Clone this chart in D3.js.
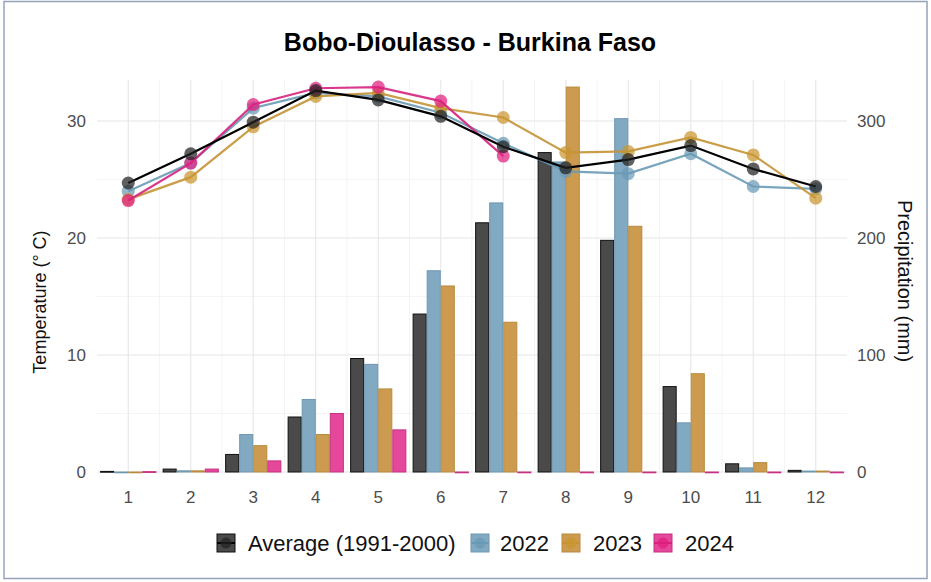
<!DOCTYPE html>
<html>
<head>
<meta charset="utf-8">
<script src="https://cdn.jsdelivr.net/npm/d3@7"></script>
<style>
  html, body { margin: 0; padding: 0; background: #fff; }
  svg { display: block; font-family: "Liberation Sans", Arial, sans-serif; }
</style>
</head>
<body>
<svg id="chart" width="931" height="582"></svg>
<script>
// ---------- data ----------
const months = [1, 2, 3, 4, 5, 6, 7, 8, 9, 10, 11, 12];
const seriesNames = ["Average (1991-2000)", "2022", "2023", "2024"];

const precipAvg  = [0.5, 2.5, 15, 47, 97, 135, 213, 273, 198, 73, 7, 1.4];
const precip2022 = [0, 1, 32, 62, 92, 172, 230, 265, 302, 42, 3.5, 0.8];
const precip2023 = [0, 1, 22.5, 32, 71, 159, 128, 329, 210, 84, 8, 0.8];
const precip2024 = [0.3, 2.5, 9.5, 50, 36, 0, 0, 0, 0, 0, 0, 0];

const tempAvg  = [24.7, 27.2, 29.9, 32.6, 31.8, 30.4, 27.8, 26.0, 26.7, 27.9, 25.9, 24.4];
const temp2022 = [24.0, 26.4, 31.1, 32.4, 32.1, 30.7, 28.1, 25.7, 25.5, 27.2, 24.4, 24.2];
const temp2023 = [23.3, 25.2, 29.5, 32.1, 32.4, 31.1, 30.3, 27.3, 27.4, 28.6, 27.1, 23.4];
const temp2024 = [23.2, 26.4, 31.4, 32.8, 32.9, 31.7, 27.0];

const tempTicks = [0, 10, 20, 30];
const precipTicks = [0, 100, 200, 300];

const precipSeries = [precipAvg, precip2022, precip2023, precip2024];
const tempSeries = [tempAvg, temp2022, temp2023, temp2024];

// ---------- styles ----------
const barFill   = ["#4a4a4a", "#82a9c2", "#cc9b4f", "#e5479a"];
const barStroke = ["#111111", "#6e97b0", "#b88a3e", "#c63282"];
const lineCol   = ["#000000", "#6a9ab6", "#c49235", "#d6227d"];
const ptCol     = ["#222222", "#6a9ab6", "#c9952f", "#e01f80"];

// ---------- layout ----------
const svg = d3.select("#chart");
const panel = { left: 97, right: 847, top: 80, bottom: 472 };
const topT = (panel.bottom - panel.top) / 11.7;

const x = d3.scaleLinear().domain([0.5, 12.5]).range([panel.left, panel.right]);
const yT = d3.scaleLinear().domain([0, topT]).range([panel.bottom, panel.top]);
const yP = d3.scaleLinear().domain([0, topT * 10]).range([panel.bottom, panel.top]);

// outer border
svg.append("rect").attr("x", 4).attr("y", 1.5).attr("width", 923).attr("height", 577)
  .attr("fill", "none").attr("stroke", "#95a3b8").attr("stroke-width", 1.5);

// grid
const g = svg.append("g");
const minorY = [5, 15, 25];
g.selectAll(".gminy").data(minorY).enter().append("line")
  .attr("x1", panel.left).attr("x2", panel.right)
  .attr("y1", d => yT(d)).attr("y2", d => yT(d))
  .attr("stroke", "#ececec").attr("stroke-width", 0.6);
g.selectAll(".gmajy").data(tempTicks).enter().append("line")
  .attr("x1", panel.left).attr("x2", panel.right)
  .attr("y1", d => yT(d)).attr("y2", d => yT(d))
  .attr("stroke", "#e6e6e6").attr("stroke-width", 1.1);
const minorX = d3.range(1.5, 12.5, 1);
g.selectAll(".gminx").data(minorX).enter().append("line")
  .attr("y1", panel.top).attr("y2", panel.bottom)
  .attr("x1", d => x(d)).attr("x2", d => x(d))
  .attr("stroke", "#ececec").attr("stroke-width", 0.6);
g.selectAll(".gmajx").data(months).enter().append("line")
  .attr("y1", panel.top).attr("y2", panel.bottom)
  .attr("x1", d => x(d)).attr("x2", d => x(d))
  .attr("stroke", "#e6e6e6").attr("stroke-width", 1.1);

// bars
const groupW = 0.9;
const xSub = d3.scaleBand().domain(d3.range(4)).range([-groupW / 2, groupW / 2]).padding(0);
const unit = x(1) - x(0);
precipSeries.forEach((arr, si) => {
  svg.append("g").selectAll("rect").data(arr).enter().append("rect")
    .attr("x", (d, i) => x(months[i] + xSub(si)) + 0.5)
    .attr("width", xSub.bandwidth() * unit - 1)
    .attr("y", d => yP(d))
    .attr("height", d => Math.max(0.8, yP(0) - yP(d)))
    .attr("fill", barFill[si])
    .attr("stroke", barStroke[si])
    .attr("stroke-width", 1);
});

// lines + points (average drawn last)
const order = [1, 2, 3, 0];
order.forEach(si => {
  const arr = tempSeries[si];
  const line = d3.line().x((d, i) => x(months[i])).y(d => yT(d));
  svg.append("path").datum(arr).attr("d", line)
    .attr("fill", "none").attr("stroke", lineCol[si]).attr("stroke-width", 2.2)
    .attr("stroke-opacity", si === 0 ? 1 : 0.9);
  svg.append("g").selectAll("circle").data(arr).enter().append("circle")
    .attr("cx", (d, i) => x(months[i])).attr("cy", d => yT(d)).attr("r", 6.5)
    .attr("fill", ptCol[si]).attr("fill-opacity", 0.72);
});

// axes labels
const tickCol = "#4d4d4d";
svg.append("g").selectAll("text").data(tempTicks).enter().append("text")
  .attr("x", 86).attr("y", d => yT(d)).attr("dy", "0.35em")
  .attr("text-anchor", "end").attr("font-size", 17).attr("fill", tickCol)
  .text(d => d);
svg.append("g").selectAll("text").data(precipTicks).enter().append("text")
  .attr("x", 857).attr("y", d => yP(d)).attr("dy", "0.35em")
  .attr("text-anchor", "start").attr("font-size", 17).attr("fill", tickCol)
  .text(d => d);
svg.append("g").selectAll("text").data(months).enter().append("text")
  .attr("x", d => x(d)).attr("y", 503)
  .attr("text-anchor", "middle").attr("font-size", 17).attr("fill", tickCol)
  .text(d => d);

// axis titles
svg.append("text").attr("transform", "translate(46,302) rotate(-90)")
  .attr("text-anchor", "middle").attr("font-size", 18).attr("fill", "#111")
  .text("Temperature (° C)");
svg.append("text").attr("transform", "translate(898,281) rotate(90)")
  .attr("text-anchor", "middle").attr("font-size", 20).attr("fill", "#111")
  .text("Precipitation (mm)");

// title
svg.append("text").attr("x", 470).attr("y", 51).attr("text-anchor", "middle")
  .attr("font-size", 25).attr("font-weight", "bold").attr("fill", "#000")
  .text("Bobo-Dioulasso - Burkina Faso");

// legend
const legY = 543;
const legItems = [
  { x: 217, tx: 248 },
  { x: 471, tx: 500 },
  { x: 562, tx: 593 },
  { x: 654, tx: 685 }
];
seriesNames.forEach((name, si) => {
  const it = legItems[si];
  const lg = svg.append("g");
  lg.append("rect").attr("x", it.x).attr("y", legY - 9).attr("width", 18).attr("height", 18)
    .attr("fill", barFill[si]).attr("stroke", barStroke[si]).attr("stroke-width", 1);
  lg.append("line").attr("x1", it.x).attr("x2", it.x + 18).attr("y1", legY).attr("y2", legY)
    .attr("stroke", lineCol[si]).attr("stroke-width", 2);
  lg.append("circle").attr("cx", it.x + 9).attr("cy", legY).attr("r", 5.5)
    .attr("fill", ptCol[si]).attr("fill-opacity", 0.72);
  lg.append("text").attr("x", it.tx).attr("y", legY).attr("dy", "0.36em")
    .attr("font-size", 22).attr("fill", "#111").text(name);
});
</script>
</body>
</html>
